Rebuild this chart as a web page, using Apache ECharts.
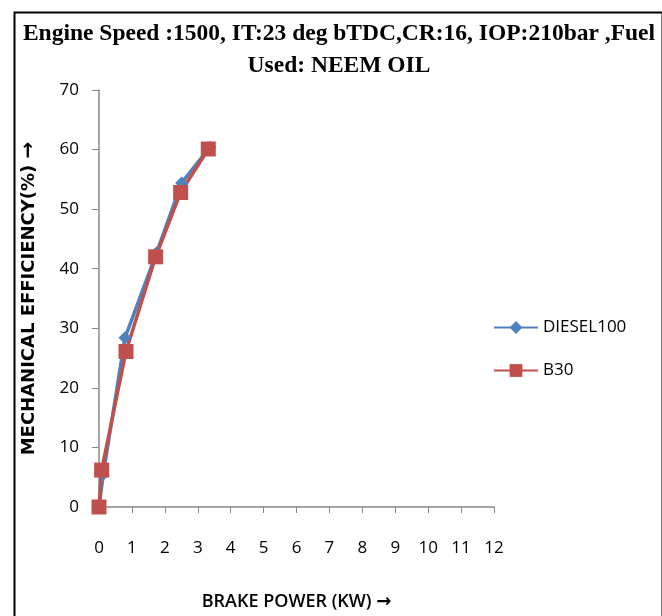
<!DOCTYPE html>
<html>
<head>
<meta charset="utf-8">
<script src="https://cdn.jsdelivr.net/npm/echarts@6/dist/echarts.min.js"></script>
<style>html,body{margin:0;padding:0;background:#fff}#c{width:662px;height:616px}</style>
</head>
<body>
<div id="c"></div>
<script>
var titleText = 'Engine Speed :1500, IT:23 deg bTDC,CR:16, IOP:210bar ,Fuel\nUsed: NEEM OIL';
var xAxisName = 'BRAKE POWER (KW) ';
var yAxisName = 'MECHANICAL EFFICIENCY(%) ';
var arrow = '\u2192';
var dieselX = [0, 0.13, 0.79, 1.75, 2.51, 3.37];
var dieselY = [0, 5.5, 28.4, 42.7, 54.4, 60.4];
var b30X = [0, 0.08, 0.82, 1.72, 2.48, 3.32];
var b30Y = [0, 6.2, 26.1, 42.0, 52.8, 60.1];
var seriesNames = ['DIESEL100', 'B30'];

function pairs(xs, ys) { return xs.map(function (x, i) { return [x, ys[i]]; }); }

var chart = echarts.init(document.getElementById('c'));
chart.setOption({
  animation: false,
  backgroundColor: '#fff',
  graphic: [{
    type: 'rect', left: 12, top: 10,
    shape: { width: 648, height: 640 },
    style: { fill: 'none', stroke: '#000', lineWidth: 2 }, silent: true
  }],
  title: {
    text: titleText, left: 334, top: 13, textAlign: 'center',
    textStyle: { fontFamily: 'Liberation Serif', fontWeight: 'bold', fontSize: 23.5, lineHeight: 32, color: '#000' }
  },
  legend: {
    orient: 'vertical', left: 488, top: 314, itemGap: 26, itemWidth: 44, itemHeight: 16,
    textStyle: { fontFamily: 'Open Sans', fontSize: 17, color: '#000' },
    data: seriesNames
  },
  grid: { left: 99, right: 168, top: 90, bottom: 108 },
  xAxis: {
    type: 'value', min: 0, max: 12, interval: 1,
    name: '{t|' + xAxisName + '}{a|' + arrow + '}', nameLocation: 'middle', nameGap: 86,
    nameTextStyle: {
      rich: {
        t: { fontFamily: 'Open Sans', fontSize: 18, fontWeight: 600, color: '#000' },
        a: { fontFamily: 'DejaVu Sans', fontSize: 18, fontWeight: 'bold', color: '#000' }
      }
    },
    axisLine: { lineStyle: { color: '#888', width: 1.5 } },
    axisTick: { show: true, length: 6, lineStyle: { color: '#888' } },
    axisLabel: { margin: 33, fontFamily: 'Open Sans', fontSize: 17, color: '#000' },
    splitLine: { show: false }
  },
  yAxis: {
    type: 'value', min: 0, max: 70, interval: 10,
    name: '{t|' + yAxisName + '}{a|' + arrow + '}', nameLocation: 'middle', nameGap: 60, nameRotate: 90,
    nameTextStyle: {
      rich: {
        t: { fontFamily: 'DejaVu Sans', fontSize: 18, fontWeight: 'bold', color: '#000' },
        a: { fontFamily: 'DejaVu Sans', fontSize: 20, fontWeight: 'bold', color: '#000' }
      }
    },
    axisLine: { show: true, lineStyle: { color: '#888', width: 1.5 } },
    axisTick: { show: true, length: 7, lineStyle: { color: '#888' } },
    axisLabel: { margin: 20, fontFamily: 'Open Sans', fontSize: 17, color: '#000' },
    splitLine: { show: false }
  },
  series: [{
    name: seriesNames[0], type: 'line', data: pairs(dieselX, dieselY),
    symbol: 'diamond', symbolSize: 13, showAllSymbol: true,
    lineStyle: { color: '#4F81BD', width: 3.5 }, itemStyle: { color: '#4F81BD' }
  }, {
    name: seriesNames[1], type: 'line', data: pairs(b30X, b30Y),
    symbol: 'rect', symbolSize: 15, showAllSymbol: true,
    lineStyle: { color: '#C0504D', width: 3.5 }, itemStyle: { color: '#C0504D' }
  }]
});
</script>
</body>
</html>
